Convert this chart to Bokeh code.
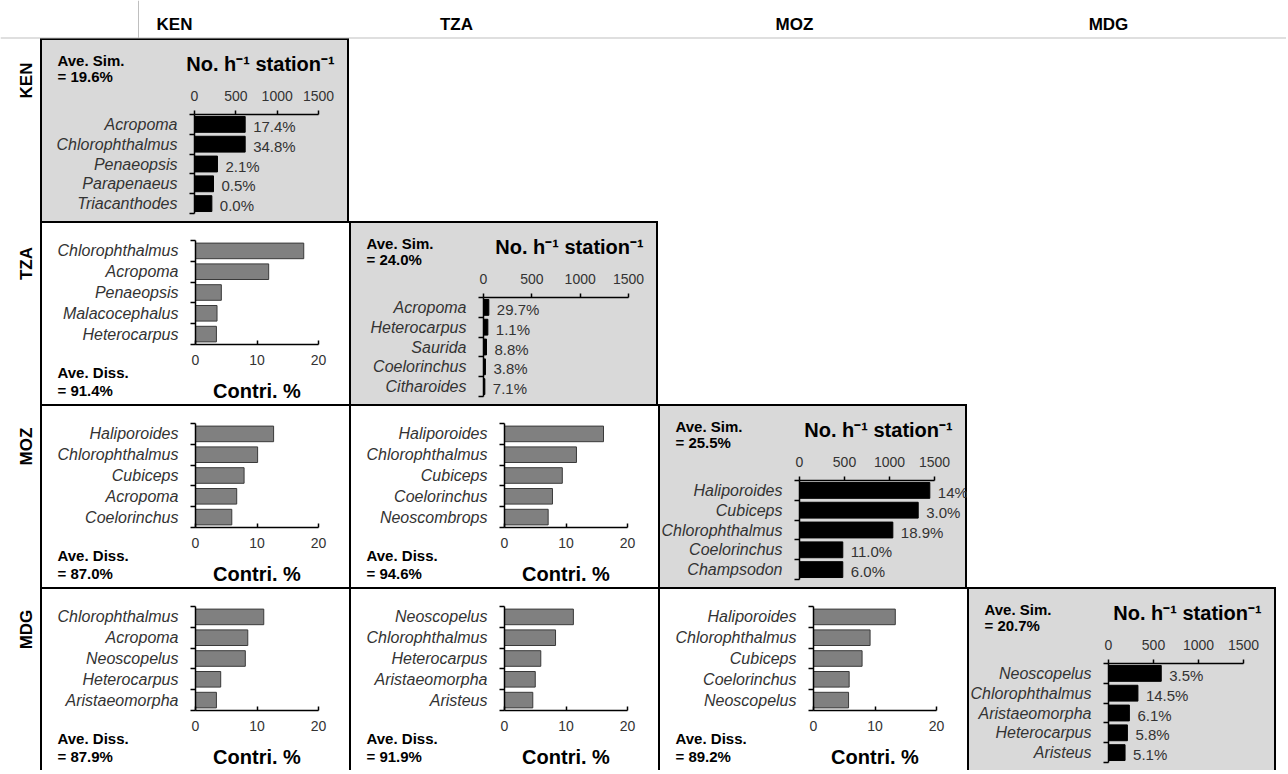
from math import pi
from bokeh.plotting import figure
from bokeh.models import Range1d, FixedTicker, Spacer, ColumnDataSource, GridBox
from bokeh.core.properties import value
from bokeh.embed import file_html
from bokeh.resources import INLINE

# ---------------- data ----------------
regions = ["KEN", "TZA", "MOZ", "MDG"]
abund_ticks = [0, 500, 1000, 1500]
contri_ticks = [0, 10, 20]
abund_title = "No. h\u207b\u00b9 station\u207b\u00b9"
contri_title = "Contri. %"

# diagonal panels: within-region similarity (abundance, No. h-1 station-1)
ken_sim_species = ["Acropoma", "Chlorophthalmus", "Penaeopsis", "Parapenaeus", "Triacanthodes"]
ken_sim_abund = [613, 613, 278, 230, 210]
ken_sim_contrib = ["17.4%", "34.8%", "2.1%", "0.5%", "0.0%"]
ken_ave_sim = "19.6%"

tza_sim_species = ["Acropoma", "Heterocarpus", "Saurida", "Coelorinchus", "Citharoides"]
tza_sim_abund = [55, 45, 31, 20, 14]
tza_sim_contrib = ["29.7%", "1.1%", "8.8%", "3.8%", "7.1%"]
tza_ave_sim = "24.0%"

moz_sim_species = ["Haliporoides", "Cubiceps", "Chlorophthalmus", "Coelorinchus", "Champsodon"]
moz_sim_abund = [1448, 1319, 1037, 481, 481]
moz_sim_contrib = ["14%", "3.0%", "18.9%", "11.0%", "6.0%"]
moz_ave_sim = "25.5%"

mdg_sim_species = ["Neoscopelus", "Chlorophthalmus", "Aristaeomorpha", "Heterocarpus", "Aristeus"]
mdg_sim_abund = [586, 327, 232, 210, 184]
mdg_sim_contrib = ["3.5%", "14.5%", "6.1%", "5.8%", "5.1%"]
mdg_ave_sim = "20.7%"

# off-diagonal panels: between-region dissimilarity contributions (Contri. %)
tza_ken_species = ["Chlorophthalmus", "Acropoma", "Penaeopsis", "Malacocephalus", "Heterocarpus"]
tza_ken_contri = [17.6, 11.9, 4.2, 3.5, 3.4]
tza_ken_diss = "91.4%"

moz_ken_species = ["Haliporoides", "Chlorophthalmus", "Cubiceps", "Acropoma", "Coelorinchus"]
moz_ken_contri = [12.7, 10.1, 7.9, 6.7, 5.9]
moz_ken_diss = "87.0%"

moz_tza_species = ["Haliporoides", "Chlorophthalmus", "Cubiceps", "Coelorinchus", "Neoscombrops"]
moz_tza_contri = [16.1, 11.7, 9.4, 7.8, 7.1]
moz_tza_diss = "94.6%"

mdg_ken_species = ["Chlorophthalmus", "Acropoma", "Neoscopelus", "Heterocarpus", "Aristaeomorpha"]
mdg_ken_contri = [11.1, 8.5, 8.1, 4.1, 3.4]
mdg_ken_diss = "87.9%"

mdg_tza_species = ["Neoscopelus", "Chlorophthalmus", "Heterocarpus", "Aristaeomorpha", "Aristeus"]
mdg_tza_contri = [11.2, 8.3, 5.9, 5.0, 4.6]
mdg_tza_diss = "91.9%"

mdg_moz_species = ["Haliporoides", "Chlorophthalmus", "Cubiceps", "Coelorinchus", "Neoscopelus"]
mdg_moz_contri = [13.3, 9.2, 7.9, 5.8, 5.7]
mdg_moz_diss = "89.2%"

diag = {
    0: (ken_sim_species, ken_sim_abund, ken_sim_contrib, ken_ave_sim),
    1: (tza_sim_species, tza_sim_abund, tza_sim_contrib, tza_ave_sim),
    2: (moz_sim_species, moz_sim_abund, moz_sim_contrib, moz_ave_sim),
    3: (mdg_sim_species, mdg_sim_abund, mdg_sim_contrib, mdg_ave_sim),
}
offdiag = {
    (1, 0): (tza_ken_species, tza_ken_contri, tza_ken_diss),
    (2, 0): (moz_ken_species, moz_ken_contri, moz_ken_diss),
    (2, 1): (moz_tza_species, moz_tza_contri, moz_tza_diss),
    (3, 0): (mdg_ken_species, mdg_ken_contri, mdg_ken_diss),
    (3, 1): (mdg_tza_species, mdg_tza_contri, mdg_tza_diss),
    (3, 2): (mdg_moz_species, mdg_moz_contri, mdg_moz_diss),
}

# ---------------- layout / style ----------------
FONT = "Liberation Sans"
CELL_W, CELL_H = 309, 183
LABEL_W, HEAD_H, EXTRA_W = 40, 38, 10
TOTAL_W = LABEL_W + 4 * CELL_W + EXTRA_W
TOTAL_H = HEAD_H + 4 * CELL_H
DIAG_FRAME_LEFT = [154, 134, 141, 141]
DIAG_AXIS_LEN = [124, 145, 135, 135]
DIAG_TOP, DIAG_BOTTOM = 76, 175
OFF_LEFT, OFF_AXIS_LEN, OFF_TOP, OFF_BOTTOM = 155, 123, 19, 123
HEADER_X = [174, 456, 794, 1108]
TXT = "#333333"

DIAG_STYLE = {"background-color": "#d9d9d9",
              "box-shadow": "inset 2px 2px 0 0 #000000, inset -2px 0 0 0 #000000"}
OFF_STYLE = {"background-color": "#ffffff", "box-shadow": "inset 2px 2px 0 0 #000000"}


def clean(p):
    p.grid.visible = False
    p.outline_line_color = None
    p.background_fill_color = None
    p.border_fill_color = None
    p.frame_align = False


def style_cat_axis(ax, names):
    n = len(names)
    ax.ticker = FixedTicker(ticks=[n - 0.5 - i for i in range(n)],
                            minor_ticks=list(range(n + 1)))
    ax.major_label_overrides = {n - 0.5 - i: nm for i, nm in enumerate(names)}
    ax.major_tick_out = 0
    ax.major_tick_in = 0
    ax.minor_tick_out = 5
    ax.minor_tick_in = 0
    ax.minor_tick_line_color = "black"
    ax.minor_tick_line_width = 1.5
    ax.axis_line_color = "black"
    ax.axis_line_width = 1.5
    ax.major_label_text_font = FONT
    ax.major_label_text_font_style = "italic"
    ax.major_label_text_font_size = "16px"
    ax.major_label_text_color = TXT
    ax.major_label_standoff = 12


def style_val_axis(ax, ticks):
    ax.ticker = FixedTicker(ticks=ticks)
    ax.major_tick_line_color = "black"
    ax.major_tick_line_width = 1.5
    ax.minor_tick_line_color = None
    ax.axis_line_color = "black"
    ax.axis_line_width = 1.5
    ax.major_label_text_font = FONT
    ax.major_label_text_font_size = "14px"
    ax.major_label_text_color = TXT
    ax.axis_label_text_font = FONT
    ax.axis_label_text_font_size = "20px"
    ax.axis_label_text_font_style = "bold"
    ax.axis_label_text_color = "black"


def diag_cell(k):
    species, abund, contrib, sim = diag[k]
    n = len(species)
    fl = DIAG_FRAME_LEFT[k]
    fw = CELL_W - fl
    xmax = abund_ticks[-1] * fw / DIAG_AXIS_LEN[k]
    p = figure(width=CELL_W, height=CELL_H, x_range=Range1d(0, xmax), y_range=Range1d(0, n),
               x_axis_location="above", output_backend="svg", toolbar_location=None,
               min_border_left=fl, min_border_right=0, min_border_top=DIAG_TOP,
               min_border_bottom=CELL_H - DIAG_BOTTOM, styles=DIAG_STYLE)
    clean(p)
    src = ColumnDataSource(dict(y=[n - 0.5 - i for i in range(n)], v=abund, lab=contrib))
    p.hbar(y="y", left=0, right="v", height=0.8, source=src, fill_color="black", line_color="black")
    p.text(x="v", y="y", text="lab", source=src, x_offset=8, y_offset=2, text_baseline="middle",
           text_align="left", text_font=value(FONT), text_font_size="15px", text_color=TXT)
    xa = p.xaxis[0]
    style_val_axis(xa, abund_ticks)
    xa.bounds = (abund_ticks[0], abund_ticks[-1])
    xa.major_tick_out = 4
    xa.major_tick_in = 0
    xa.major_label_standoff = 10
    style_cat_axis(p.yaxis[0], species)
    return p


def off_cell(r, c):
    species, vals, diss = offdiag[(r, c)]
    n = len(species)
    p = figure(width=CELL_W, height=CELL_H, x_range=Range1d(contri_ticks[0], contri_ticks[-1]),
               y_range=Range1d(0, n), output_backend="svg", toolbar_location=None,
               min_border_left=OFF_LEFT, min_border_right=CELL_W - OFF_LEFT - OFF_AXIS_LEN,
               min_border_top=OFF_TOP, min_border_bottom=CELL_H - OFF_BOTTOM, styles=OFF_STYLE)
    clean(p)
    src = ColumnDataSource(dict(y=[n - 0.5 - i for i in range(n)], v=vals))
    p.hbar(y="y", left=0, right="v", height=0.75, source=src, fill_color="#808080",
           line_color="#3a3a3a", line_width=1)
    xa = p.xaxis[0]
    style_val_axis(xa, contri_ticks)
    xa.axis_label = contri_title
    xa.major_tick_in = 4
    xa.major_tick_out = 0
    xa.major_label_standoff = 10
    xa.axis_label_standoff = 12
    style_cat_axis(p.yaxis[0], species)
    return p


# ---------------- overlay with free texts (header, row labels, panel titles) ----------------
ov = figure(width=TOTAL_W, height=TOTAL_H, x_range=Range1d(0, TOTAL_W), y_range=Range1d(0, TOTAL_H),
            output_backend="svg", toolbar_location=None, x_axis_type=None, y_axis_type=None,
            min_border=0)
clean(ov)


def from_top(y):
    return TOTAL_H - y


# header grid lines
ov.segment(x0=[0, 138], y0=[from_top(37.5), from_top(0)], x1=[TOTAL_W, 138], y1=[from_top(37.5), from_top(37.5)],
           line_color="#bfbfbf", line_width=1)
# column headers
ov.text(x=HEADER_X, y=[from_top(24)] * 4, text=regions, text_align="center", text_baseline="middle",
        text_font=value(FONT), text_font_size="17px", text_font_style="bold", text_color="black")
# row labels
ov.text(x=[26] * 4, y=[from_top(HEAD_H + r * CELL_H + 42) for r in range(4)], text=regions,
        angle=pi / 2, text_align="center", text_baseline="middle", text_font=value(FONT),
        text_font_size="17px", text_font_style="bold", text_color="black")

# abundance axis titles of the diagonal panels
ov.text(x=[LABEL_W + (r + 1) * CELL_W - 89 for r in range(4)],
        y=[from_top(HEAD_H + r * CELL_H + 25) for r in range(4)], text=[abund_title] * 4,
        text_align="center", text_baseline="middle", text_font=value(FONT), text_font_size="20px",
        text_font_style="bold", text_color="black")

ave_x, ave_y, ave_t = [], [], []
for r in range(4):
    x0 = LABEL_W + r * CELL_W + 17
    y0 = HEAD_H + r * CELL_H
    ave_x += [x0, x0]
    ave_y += [from_top(y0 + 13), from_top(y0 + 29)]
    ave_t += ["Ave. Sim.", "= " + diag[r][3]]
for (r, c), (_, _, diss) in offdiag.items():
    x0 = LABEL_W + c * CELL_W + 17
    y0 = HEAD_H + r * CELL_H
    ave_x += [x0, x0]
    ave_y += [from_top(y0 + 142), from_top(y0 + 160)]
    ave_t += ["Ave. Diss.", "= " + diss]
ov.text(x=ave_x, y=ave_y, text=ave_t, text_align="left", text_baseline="top", text_font=value(FONT),
        text_font_size="15px", text_font_style="bold", text_color="black")

# ---------------- grid assembly ----------------
children = [(Spacer(width=LABEL_W, height=HEAD_H), 0, 0)]
for c in range(4):
    children.append((Spacer(width=CELL_W, height=HEAD_H), 0, c + 1))
children.append((Spacer(width=EXTRA_W, height=HEAD_H), 0, 5))
for r in range(4):
    children.append((Spacer(width=LABEL_W, height=CELL_H), r + 1, 0))
    for c in range(4):
        if c < r:
            cell = off_cell(r, c)
        elif c == r:
            cell = diag_cell(r)
        else:
            cell = Spacer(width=CELL_W, height=CELL_H)
        children.append((cell, r + 1, c + 1))
    children.append((Spacer(width=EXTRA_W, height=CELL_H), r + 1, 5))
children.append((ov, 0, 0, 5, 6))

grid = GridBox(children=children)
open("out.html", "w").write(file_html(grid, INLINE))
